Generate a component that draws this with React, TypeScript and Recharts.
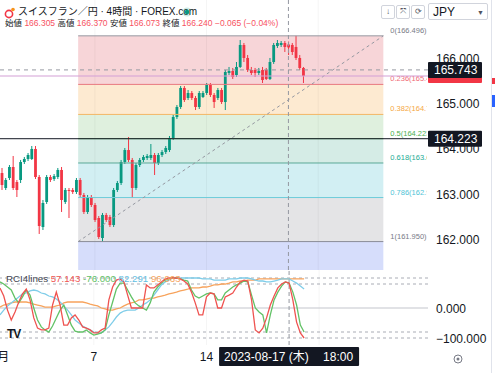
import {
    ComposedChart,
    LineChart,
    Line,
    Bar,
    XAxis,
    YAxis,
    ReferenceLine,
    ReferenceArea,
} from "recharts";

// 4h candles, CHF/JPY (FOREX.com)
const opens = [
    163.465, 163.134, 163.355, 163.598, 163.266, 163.311, 163.708, 163.775, 163.775, 163.996,
    163.377, 162.272, 162.825, 163.377, 163.333, 163.377, 163.532, 162.825, 163.09, 163.09,
    163.046, 163.311, 162.979, 162.604, 162.935, 162.758, 162.471, 162.029, 162.538, 162.493,
    162.316, 163.09, 163.244, 163.708, 163.973, 163.753, 163.134, 163.642, 163.753, 163.797,
    163.797, 163.863, 163.686, 163.863, 163.929, 163.973, 164.239, 164.703, 164.924, 165.344,
    165.123, 165.233, 165.123, 164.924, 165.145, 165.233, 165.41, 165.189, 165.123, 165.299,
    165.034, 165.675, 165.719, 165.631, 165.808, 166.294, 166.007, 165.742, 165.742, 165.675,
    165.742, 165.742, 165.543, 165.918, 166.272, 166.294, 166.338, 166.305, 166.294, 166.25,
    166.007, 165.786,
];
const highs = [
    163.576, 163.355, 163.642, 163.841, 163.311, 163.753, 163.819, 163.907, 164.062, 164.062,
    163.421, 162.869, 163.421, 163.421, 163.443, 163.576, 163.598, 163.134, 163.134, 163.134,
    163.355, 163.355, 163.024, 162.979, 162.979, 162.803, 162.515, 162.582, 162.582, 162.538,
    163.134, 163.289, 163.753, 164.018, 164.261, 163.797, 163.686, 163.797, 163.863, 163.885,
    164.106, 163.907, 163.907, 163.973, 164.062, 164.283, 164.747, 164.968, 165.388, 165.388,
    165.299, 165.277, 165.167, 165.277, 165.277, 165.454, 165.454, 165.233, 165.344, 165.344,
    165.742, 165.808, 165.786, 165.918, 166.404, 166.338, 166.073, 165.808, 165.786, 165.786,
    165.808, 165.786, 166.007, 166.338, 166.404, 166.382, 166.382, 166.37, 166.338, 166.496,
    166.073, 165.808,
];
const lows = [
    163.09, 163.09, 163.311, 163.09, 162.935, 163.244, 163.664, 163.73, 163.753, 163.333,
    162.118, 162.206, 162.781, 163.266, 163.289, 163.333, 162.604, 162.781, 162.471, 163.002,
    163.002, 162.935, 162.56, 162.56, 162.714, 162.383, 162.007, 161.95, 162.383, 162.272,
    162.272, 163.046, 163.2, 163.664, 163.708, 162.913, 163.09, 163.598, 163.708, 163.753,
    163.753, 163.421, 163.642, 163.819, 163.885, 163.929, 164.194, 164.659, 164.88, 165.034,
    165.078, 165.078, 164.857, 164.88, 165.123, 165.189, 165.145, 164.902, 165.078, 164.99,
    164.857, 165.631, 165.543, 165.587, 165.786, 165.918, 165.697, 165.631, 165.587, 165.631,
    165.454, 165.52, 165.52, 165.875, 166.228, 166.25, 166.139, 166.073, 166.073, 165.962,
    165.742, 165.454,
];
const closes = [
    163.2, 163.311, 163.598, 163.134, 163.09, 163.708, 163.775, 163.863, 163.996, 163.377,
    162.294, 162.803, 163.377, 163.311, 163.399, 163.532, 162.869, 163.09, 163.068, 163.046,
    163.311, 162.979, 162.604, 162.935, 162.758, 162.427, 162.051, 162.538, 162.427, 162.316,
    163.09, 163.244, 163.708, 163.973, 163.753, 163.134, 163.642, 163.753, 163.819, 163.841,
    163.863, 163.686, 163.863, 163.929, 164.018, 164.239, 164.703, 164.924, 165.344, 165.078,
    165.233, 165.123, 164.924, 165.233, 165.233, 165.41, 165.189, 165.034, 165.299, 165.034,
    165.697, 165.719, 165.587, 165.808, 166.294, 166.007, 165.742, 165.675, 165.675, 165.719,
    165.52, 165.543, 165.918, 166.294, 166.338, 166.338, 166.25, 166.24, 166.139, 166.007,
    165.786, 165.609,
];

// RCI 4 lines
const rciRed = [
    67, 40, -7, -40, -13, 20, 47, 63, 27, -33, -67, -73, -73, -67, 10, 53, 10, -57, -57, -33,
    -23, -40, -63, -67, -73, -83, -83, -73, -67, 27, 70, 93, 97, 87, 43, 0, 0, 0, 0, 77,
    67, 67, 77, 87, 97, 100, 100, 100, 97, 90, 80, 53, 17, -23, -23, 37, 50, 47, 0, 0,
    37, 43, 50, 70, 87, 93, 90, 27, -73, -83, -67, -33, 10, 40, 67, 80, 87, 83, 27, -47,
    -83, -100,
];
const rciGreen = [
    87, 80, 70, 60, 33, 17, 37, 60, 43, 0, -40, -63, -73, -80, -60, -33, -7, 10, -23, -57,
    -77, -80, -80, -73, -83, -90, -87, -83, -73, -23, 20, 63, 83, 83, 60, 37, 17, 7, 0, -7,
    17, 53, 70, 83, 93, 97, 100, 100, 97, 93, 90, 60, 40, 33, 40, 47, 50, 47, 27, 27,
    50, 60, 70, 77, 83, 90, 87, 43, 0, -13, -23, -83, -23, 27, 53, 73, 87, 83, 53, 10,
    -57, -80,
];
const rciBlue = [
    -23, -7, 7, 17, 27, 37, 47, 50, 57, 60, 57, 50, 47, 40, 37, 30, 20, 7, -7, -23,
    -40, -50, -60, -67, -73, -80, -83, -83, -73, -63, -47, -30, -17, -10, -7, -7, -7, 0, 10, 17,
    27, 43, 60, 77, 87, 93, 100, 100, 100, 100, 100, 100, 100, 100, 97, 97, 97, 93, 93, 93,
    93, 97, 97, 97, 100, 100, 100, 97, 93, 90, 90, 87, 87, 90, 93, 97, 97, 97, 90, 83,
    73, 63,
];
const rciOrange = [
    3, 10, 13, 17, 20, 20, 20, 20, 17, 13, 10, 7, 3, 3, 3, 7, 10, 17, 20, 20,
    20, 20, 20, 17, 13, 10, 7, 0, -3, -7, -7, -3, 0, 7, 13, 17, 20, 27, 27, 30,
    33, 33, 37, 40, 43, 47, 50, 53, 57, 60, 63, 67, 67, 67, 70, 70, 73, 77, 77, 80,
    80, 83, 87, 87, 90, 90, 93, 93, 93, 97, 97, 97, 97, 97, 97, 97, 97, 97, 97, 97,
    97, 97,
];

const SLOTS = 115; // bars incl. empty space on the right
const priceTicks = [162, 163, 164, 165, 166];
const rciTicks = [100, 0, -100];
const rciGuides = [100, 80, -80, -100];
const dateTicks = [0, 25, 55];
const dateLabels = ["8月", "7", "14"];
const weekLines = [25, 55, 85];

const FIB_HIGH = 166.496;
const FIB_LOW = 161.95;
const FIB_FROM = 21;
const FIB_TO = 103;
const fibRatios = [0, 0.236, 0.382, 0.5, 0.618, 0.786, 1, 1.618];
const fibLabels = ["0(166.496)", "0.236(165.423)", "0.382(164.759)", "0.5(164.223)", "0.618(163.687)", "0.786(162.923)", "1(161.950)"];

const H_LINE = 164.223;
const ALERT_LINE = 165.743;
const CROSS_BAR = 77;

const UP = "#089981";
const DOWN = "#f23645";
const BAND_FILLS = ["#f7d5d8", "#fdead1", "#dff0de", "#d5ece6", "#d2eff3", "#e4e4e6", "#d6ddfb"];
const LEVEL_STROKES = ["#9598a1", "#e8787f", "#f2b766", "#6fbf73", "#5aa897", "#6ccbd9", "#8a8d96"];
const LABEL_FILLS = ["#787b86", "#f06a74", "#f5a742", "#4caf50", "#22ab94", "#4fc3d6", "#787b86"];

const rows = Array.from({ length: SLOTS }, (_, i) =>
    i < opens.length
        ? {
            i,
            open: opens[i],
            high: highs[i],
            low: lows[i],
            close: closes[i],
            red: rciRed[i],
            green: rciGreen[i],
            blue: rciBlue[i],
            orange: rciOrange[i],
        }
        : { i },
);

const fibPrice = (r: number) => FIB_HIGH - r * (FIB_HIGH - FIB_LOW);

function Candle(props: any) {
    const { x, y, width, height, payload } = props;
    if (payload == null || payload.open == null) return null;
    const top = Math.min(y, y + height);
    const h = Math.abs(height);
    const range = payload.high - payload.low;
    const ppu = range > 0 ? h / range : 0;
    const cx = x + width / 2;
    const color = payload.close >= payload.open ? UP : DOWN;
    const bTop = top + (payload.high - Math.max(payload.open, payload.close)) * ppu;
    const bBot = top + (payload.high - Math.min(payload.open, payload.close)) * ppu;
    return (
        <g>
            <line x1={cx} x2={cx} y1={top} y2={top + h} stroke={color} strokeWidth={1} />
            <rect x={cx - 1.4} y={bTop} width={2.8} height={Math.max(1, bBot - bTop)} fill={color} />
        </g>
    );
}

function PriceTick(props: any) {
    const { x, y, payload } = props;
    return (
        <text x={x} y={y} dy={4.5} fontSize={12} fill="#131722">
            {payload.value.toFixed(3)}
        </text>
    );
}

function RciTick(props: any) {
    const { x, y, payload } = props;
    const v = payload.value;
    const txt = v < 0 ? "\u2212" + Math.abs(v).toFixed(3) : v.toFixed(3);
    return (
        <text x={x} y={y} dy={4.5} fontSize={12} fill="#131722">
            {txt}
        </text>
    );
}

function DateTick(props: any) {
    const { x, y, payload } = props;
    const idx = dateTicks.indexOf(payload.value);
    return (
        <text x={x} y={y} dy={8} textAnchor="middle" fontSize={12} fill="#131722">
            {dateLabels[idx]}
        </text>
    );
}

const priceBox = (text: string, bg: string, h: number) => (props: any) => {
    const vb = props.viewBox || {};
    const x = (vb.x || 0) + (vb.width || 0);
    const y = vb.y || 0;
    return (
        <g>
            <rect x={x} y={y - h / 2} width={54} height={h} fill={bg} rx={1} />
            {text ? (
                <text x={x + 6} y={y} dy={4.5} fontSize={12} fill="#ffffff">
                    {text}
                </text>
            ) : null}
        </g>
    );
};

const fibLabel = (text: string, color: string, k: number) => (props: any) => {
    const vb = props.viewBox || {};
    const x = (vb.x || 0) + (vb.width || 0) + 7;
    const y = (vb.y || 0) - 3;
    return (
        <g>
            <defs>
                <clipPath id={`fibclip${k}`}>
                    <rect x={0} y={0} width={427} height={270} />
                </clipPath>
            </defs>
            <text x={x} y={y} fontSize={7.5} fill={color} clipPath={`url(#fibclip${k})`}>
                {text}
            </text>
        </g>
    );
};

function DateBox(props: any) {
    const vb = props.viewBox || {};
    const cx = vb.x || 0;
    const top = (vb.y || 0) + (vb.height || 0) + 2;
    return (
        <g>
            <rect x={cx - 70} y={top} width={140} height={19} fill="#131722" rx={1} />
            <text x={cx - 65} y={top + 9.5} dy={4.5} fontSize={12} fill="#ffffff">
                2023-08-17 (木)
            </text>
            <text x={cx + 64} y={top + 9.5} dy={4.5} fontSize={12} fill="#ffffff" textAnchor="end">
                18:00
            </text>
        </g>
    );
}

export default function App() {
    const lastClose = closes[closes.length - 1];
    return (
        <div
            style={{
                position: "absolute",
                left: 0,
                top: 0,
                width: 495,
                height: 373,
                background: "#ffffff",
                overflow: "hidden",
                fontFamily: "'Liberation Sans', Arial, 'Noto Sans CJK JP', sans-serif",
            }}
        >
            <div style={{ position: "absolute", left: 0, top: 0 }}>
                <ComposedChart
                    width={495}
                    height={270}
                    data={rows}
                    margin={{ top: 0, right: 0, left: 0, bottom: 0 }}
                    barCategoryGap={0}
                    barGap={0}
                >
                    <XAxis dataKey="i" type="category" hide />
                    <YAxis
                        orientation="right"
                        width={67}
                        domain={[161.322, 167.288]}
                        allowDataOverflow
                        ticks={priceTicks}
                        axisLine={false}
                        tickLine={false}
                        tick={<PriceTick />}
                    />
                    {BAND_FILLS.map((fill, k) => (
                        <ReferenceArea
                            key={`band${k}`}
                            x1={FIB_FROM}
                            x2={FIB_TO - 1}
                            y1={fibPrice(fibRatios[k])}
                            y2={fibPrice(fibRatios[k + 1])}
                            fill={fill}
                            fillOpacity={1}
                            stroke="none"
                            ifOverflow="hidden"
                        />
                    ))}
                    {weekLines.map((w) => (
                        <ReferenceLine key={`w${w}`} x={w} stroke="rgba(0,0,0,0.045)" />
                    ))}
                    {LEVEL_STROKES.map((stroke, k) => (
                        <ReferenceLine
                            key={`lvl${k}`}
                            position="start"
                            segment={[
                                { x: FIB_FROM, y: fibPrice(fibRatios[k]) },
                                { x: FIB_TO, y: fibPrice(fibRatios[k]) },
                            ]}
                            stroke={stroke}
                            strokeWidth={1}
                            label={fibLabel(fibLabels[k], LABEL_FILLS[k], k)}
                        />
                    ))}
                    <ReferenceLine
                        position="start"
                        segment={[
                            { x: FIB_FROM, y: FIB_LOW },
                            { x: FIB_TO, y: FIB_HIGH },
                        ]}
                        stroke="#9598a1"
                        strokeDasharray="3 3"
                    />
                    <ReferenceLine x={CROSS_BAR} stroke="#9598a1" strokeDasharray="4 3" />
                    <ReferenceLine y={H_LINE} stroke="#131722" strokeWidth={1} label={priceBox("164.223", "#131722", 16)} />
                    <ReferenceLine y={lastClose} stroke="#d3a0d6" strokeWidth={1.2} label={priceBox("", "#f23645", 14)} />
                    <ReferenceLine
                        y={ALERT_LINE}
                        stroke="#9598a1"
                        strokeDasharray="4 4"
                        label={priceBox("165.743", "#131722", 16)}
                    />
                    <Bar
                        dataKey={(d: any) => (d.open == null ? null : [d.low, d.high])}
                        shape={<Candle />}
                        isAnimationActive={false}
                    />
                </ComposedChart>
            </div>

            <div style={{ position: "absolute", left: 0, top: 270 }}>
                <LineChart width={495} height={103} data={rows} margin={{ top: 0, right: 0, left: 0, bottom: 0 }}>
                    <XAxis
                        dataKey="i"
                        type="category"
                        height={28}
                        ticks={dateTicks}
                        interval={0}
                        axisLine={false}
                        tickLine={false}
                        tick={<DateTick />}
                    />
                    <YAxis
                        orientation="right"
                        width={67}
                        domain={[-123.3, 126.7]}
                        allowDataOverflow
                        ticks={rciTicks}
                        axisLine={false}
                        tickLine={false}
                        tick={<RciTick />}
                    />
                    {weekLines.map((w) => (
                        <ReferenceLine key={`rw${w}`} x={w} stroke="rgba(0,0,0,0.045)" />
                    ))}
                    {rciGuides.map((g) => (
                        <ReferenceLine key={`g${g}`} y={g} stroke="#a9acb5" strokeDasharray="3 3" />
                    ))}
                    <ReferenceLine y={0} stroke="#c3c5cc" />
                    <ReferenceLine x={CROSS_BAR} stroke="#9598a1" strokeDasharray="4 3" label={<DateBox />} />
                    <Line dataKey="orange" stroke="#f7a35c" strokeWidth={1.3} dot={false} isAnimationActive={false} />
                    <Line dataKey="blue" stroke="#7fcde9" strokeWidth={1.3} dot={false} isAnimationActive={false} />
                    <Line dataKey="green" stroke="#62c266" strokeWidth={1.3} dot={false} isAnimationActive={false} />
                    <Line dataKey="red" stroke="#ef5350" strokeWidth={1.3} dot={false} isAnimationActive={false} />
                </LineChart>
            </div>

            {/* header legend */}
            <svg style={{ position: "absolute", left: 3, top: 6 }} width={14} height={14}>
                <circle cx={6} cy={8} r={3.6} fill="none" stroke="#f23645" strokeWidth={1.6} />
                <circle cx={10} cy={3.5} r={1.8} fill="#f7931a" />
            </svg>
            <div
                style={{
                    position: "absolute",
                    left: 18,
                    top: 5,
                    fontSize: 10,
                    color: "#131722",
                    whiteSpace: "nowrap",
                    lineHeight: "14px",
                }}
            >
                スイスフラン／円 · 4時間 · FOREX.com
            </div>
            <svg style={{ position: "absolute", left: 181, top: 6 }} width={12} height={12}>
                <circle cx={6} cy={6} r={4.5} fill="rgba(8,153,129,0.2)" />
                <circle cx={6} cy={6} r={2.2} fill="#089981" />
            </svg>
            <div
                style={{
                    position: "absolute",
                    left: 5,
                    top: 18,
                    fontSize: 8.5,
                    color: "#131722",
                    whiteSpace: "nowrap",
                    lineHeight: "11px",
                }}
            >
                始値 <span style={{ color: "#f7525f" }}>166.305</span> 高値{" "}
                <span style={{ color: "#f7525f" }}>166.370</span> 安値{" "}
                <span style={{ color: "#f7525f" }}>166.073</span> 終値{" "}
                <span style={{ color: "#f7525f" }}>166.240 −0.065 (−0.04%)</span>
            </div>

            {/* top-right controls */}
            {["↓", "⤧", "⟳"].map((g, k) => (
                <div
                    key={g}
                    style={{
                        position: "absolute",
                        left: 381 + k * 15,
                        top: 5,
                        width: 12,
                        height: 12,
                        border: "1px solid #d1d4dc",
                        borderRadius: 2,
                        fontSize: 8,
                        lineHeight: "12px",
                        textAlign: "center",
                        color: "#50535e",
                        background: "#fff",
                    }}
                >
                    {g}
                </div>
            ))}
            <div
                style={{
                    position: "absolute",
                    left: 428,
                    top: 3,
                    width: 60,
                    height: 17,
                    border: "1px solid #d1d4dc",
                    borderRadius: 2,
                    background: "#fff",
                    fontSize: 12,
                    lineHeight: "17px",
                    color: "#131722",
                    boxSizing: "border-box",
                    paddingLeft: 4,
                }}
            >
                JPY
                <span style={{ position: "absolute", right: 3, top: 0, fontSize: 7, color: "#50535e" }}>▼</span>
            </div>

            {/* RCI legend */}
            <div
                style={{
                    position: "absolute",
                    left: 6,
                    top: 273,
                    fontSize: 9.7,
                    whiteSpace: "nowrap",
                    lineHeight: "12px",
                    color: "#434651",
                }}
            >
                RCI4lines <span style={{ color: "#ef5350" }}>57.143</span>{" "}
                <span style={{ color: "#62c266" }}>-76.000</span>{" "}
                <span style={{ color: "#5fc0e3" }}>82.291</span>{" "}
                <span style={{ color: "#f7a35c" }}>96.963</span>
            </div>
            <div
                style={{
                    position: "absolute",
                    left: 7,
                    top: 328,
                    fontSize: 12,
                    fontWeight: 900,
                    letterSpacing: -1,
                    color: "#131722",
                    lineHeight: "12px",
                }}
            >
                TV
            </div>

            {/* right edge bits */}
            <div style={{ position: "absolute", left: 491, top: 0, width: 1, height: 373, background: "#e0e3eb" }} />
            <div style={{ position: "absolute", left: 492, top: 78, width: 3, height: 6, background: "#f23645" }} />
            <div style={{ position: "absolute", left: 492, top: 95, width: 3, height: 12, background: "#2962ff" }} />
            <svg style={{ position: "absolute", left: 452, top: 353 }} width={12} height={12}>
                <circle cx={6} cy={6} r={4} fill="none" stroke="#787b86" strokeWidth={1} />
                <circle cx={6} cy={6} r={1.5} fill="#787b86" />
            </svg>
        </div>
    );
}
